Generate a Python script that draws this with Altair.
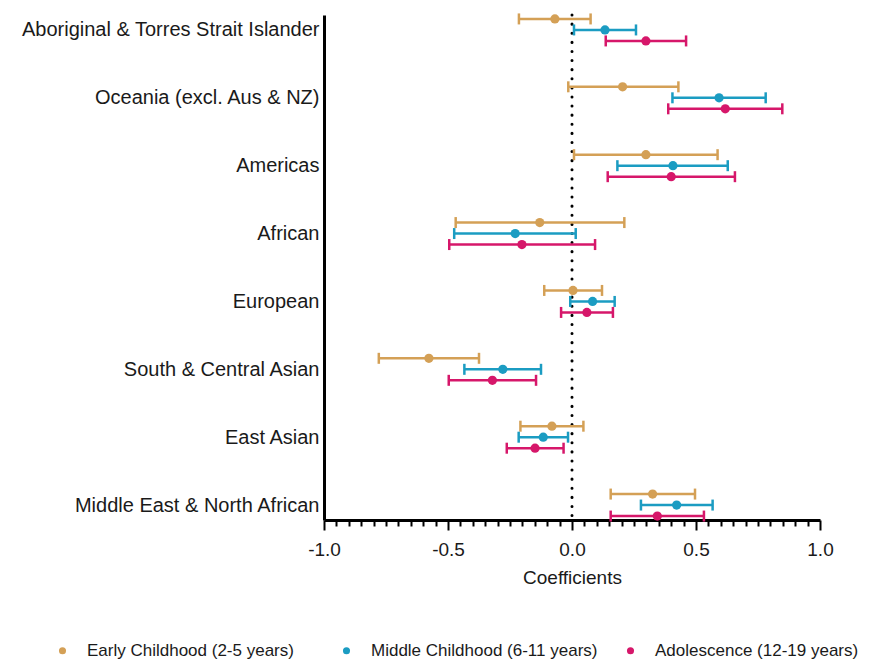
import altair as alt
import pandas as pd
import numpy as np

categories = [
    "Aboriginal & Torres Strait Islander",
    "Oceania (excl. Aus & NZ)",
    "Americas",
    "African",
    "European",
    "South & Central Asian",
    "East Asian",
    "Middle East & North African",
]
series = ["Early Childhood (2-5 years)", "Middle Childhood (6-11 years)", "Adolescence (12-19 years)"]
colors = ["#D4A056", "#1B9CC2", "#D6176A"]

early_est = [-0.069, 0.204, 0.298, -0.130, 0.004, -0.577, -0.081, 0.325]
early_lo = [-0.214, -0.015, 0.008, -0.469, -0.112, -0.779, -0.208, 0.156]
early_hi = [0.075, 0.429, 0.587, 0.211, 0.121, -0.375, 0.046, 0.496]

middle_est = [0.133, 0.593, 0.407, -0.229, 0.083, -0.279, -0.116, 0.422]
middle_lo = [0.008, 0.405, 0.183, -0.475, -0.007, -0.434, -0.215, 0.278]
middle_hi = [0.258, 0.781, 0.628, 0.015, 0.172, -0.125, -0.016, 0.567]

adol_est = [0.298, 0.618, 0.400, -0.202, 0.060, -0.321, -0.149, 0.344]
adol_lo = [0.136, 0.388, 0.144, -0.495, -0.044, -0.497, -0.263, 0.156]
adol_hi = [0.460, 0.848, 0.657, 0.093, 0.165, -0.145, -0.034, 0.532]

rows = []
for s, est, lo, hi in zip(series, [early_est, middle_est, adol_est],
                          [early_lo, middle_lo, adol_lo], [early_hi, middle_hi, adol_hi]):
    for c, e, l, h in zip(categories, est, lo, hi):
        rows.append({"cat": c, "series": s, "est": e, "lo": l, "hi": h})
df = pd.DataFrame(rows)

FONT = "Liberation Sans"
tick_vals = [round(v, 2) for v in np.arange(-1.0, 1.0001, 0.05)]

x_axis = alt.Axis(
    values=tick_vals,
    labelExpr="abs(datum.value*2 - round(datum.value*2)) < 0.000001 ? ((datum.value < 0 ? '-' : '') + format(abs(datum.value), '.1f')) : ''",
    tickSize=alt.condition("abs(datum.value*2 - round(datum.value*2)) < 0.000001", alt.value(10), alt.value(6)),
    tickWidth=2,
    tickColor="black",
    domainColor="black",
    domainWidth=3,
    labelFontSize=19,
    labelFont=FONT,
    labelColor="#1a1a1a",
    labelPadding=10,
    labelOverlap=False,
    labelFlush=False,
    grid=False,
    title="Coefficients",
    titleFontSize=19,
    titleFont=FONT,
    titleFontWeight="normal",
    titleColor="#1a1a1a",
    titlePadding=9,
)

x_scale = alt.Scale(domain=[-1, 1], nice=False, zero=False)
y_enc = alt.Y(
    "cat:N",
    sort=categories,
    scale=alt.Scale(type="point", padding=0.22),
    axis=alt.Axis(
        title=None,
        ticks=False,
        domainColor="black",
        domainWidth=3,
        labelFontSize=20,
        labelFont=FONT,
        labelColor="#1a1a1a",
        labelPadding=5,
        labelLimit=500,
        grid=False,
    ),
)
yoff = alt.YOffset(
    "series:N", sort=series,
    scale=alt.Scale(type="point", domain=series, range=[-11, 11], padding=0),
)
color = alt.Color(
    "series:N",
    sort=series,
    scale=alt.Scale(domain=series, range=colors),
    legend=alt.Legend(
        title=None,
        orient="none",
        direction="horizontal",
        legendX=-270,
        legendY=627,
        symbolType="circle",
        symbolSize=50,
        symbolStrokeWidth=0,
        symbolOpacity=1,
        labelFontSize=17,
        labelFont=FONT,
        labelColor="#1a1a1a",
        labelOffset=16,
        labelLimit=400,
        columnPadding=24,
        gridAlign="all",
        padding=0,
    ),
)

base = alt.Chart(df)

zero = alt.Chart(pd.DataFrame({"x": [0]})).mark_rule(
    color="black", strokeWidth=3, strokeDash=[0.1, 9], strokeCap="round"
).encode(x=alt.X("x:Q", scale=x_scale, axis=x_axis))

bars = base.mark_rule(strokeWidth=2.5).encode(
    x=alt.X("lo:Q", scale=x_scale, axis=x_axis), x2="hi:Q", y=y_enc, yOffset=yoff, color=color
)
cap_lo = base.mark_tick(size=11, thickness=2.5, opacity=1).encode(
    x=alt.X("lo:Q", scale=x_scale, axis=x_axis), y=y_enc, yOffset=yoff, color=color
)
cap_hi = base.mark_tick(size=11, thickness=2.5, opacity=1).encode(
    x=alt.X("hi:Q", scale=x_scale, axis=x_axis), y=y_enc, yOffset=yoff, color=color
)
pts = base.mark_circle(size=85, opacity=1).encode(
    x=alt.X("est:Q", scale=x_scale, axis=x_axis), y=y_enc, yOffset=yoff, color=color
)

chart = alt.layer(zero, bars, cap_lo, cap_hi, pts).properties(
    width=496, height=505,
    padding={"left": 13, "top": 5, "right": 0, "bottom": 0},
    background="white",
).configure_view(strokeWidth=0)

chart.save("out.html", embed_options={"renderer": "svg", "actions": False})
